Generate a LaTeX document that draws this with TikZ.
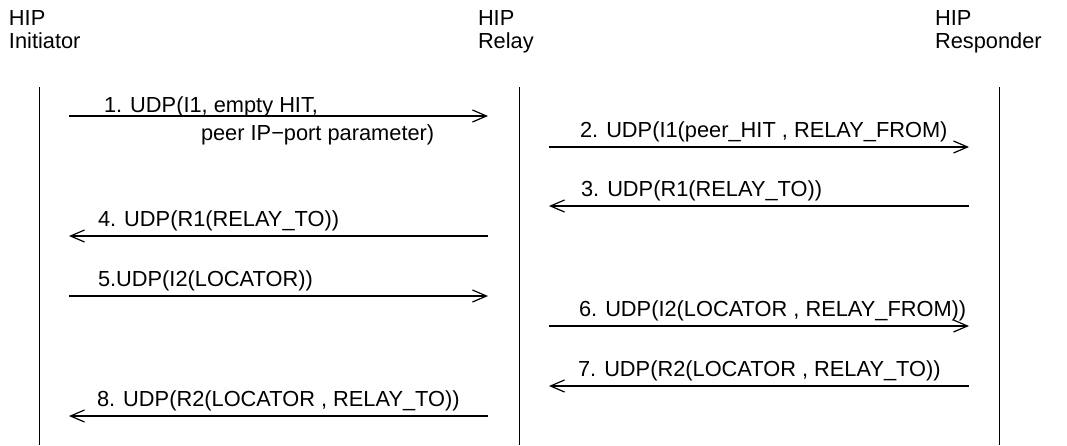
\documentclass[tikz,border=0pt]{standalone}
\usepackage{fontspec}
\setmainfont{Liberation Sans}
\usetikzlibrary{arrows.meta}
\begin{document}
\begin{tikzpicture}[x=1pt, y=-1pt,
  every node/.style={inner sep=0pt, outer sep=0pt, font=\fontsize{21.8}{23}\selectfont},
  party/.style={align=left, anchor=base west},
  msglabel/.style={anchor=base west},
  lifeline/.style={line width=1pt},
  msg/.style={line width=1.2pt, -{Straight Barb[length=14pt, width=12pt, line width=1.2pt]}}]
\useasboundingbox (0,0) rectangle (1067,445);

% participants (base anchor sits on the last line)
\node[party] (ini) at (9,48)   {HIP\\Initiator};
\node[party] (rel) at (478,48) {HIP\\Relay};
\node[party] (res) at (935,48) {HIP\\Responder};

% lifelines
\coordinate (iT) at (39,87);  \coordinate (iB) at (39,445);
\coordinate (rT) at (519,87); \coordinate (rB) at (519,445);
\coordinate (pT) at (999,87); \coordinate (pB) at (999,445);
\draw[lifeline] (iT) -- (iB);
\draw[lifeline] (rT) -- (rB);
\draw[lifeline] (pT) -- (pB);

% message end points
\foreach \n/\y in {1/116,2/147,3/206,4/236,5/296,6/326,7/386,8/416}{
  \coordinate (a\n) at (69,\y);
  \coordinate (b\n) at (488,\y);
  \coordinate (c\n) at (549,\y);
  \coordinate (d\n) at (969,\y);
}

% messages
\draw[msg] (a1) -- (b1);
\draw[msg] (c2) -- (d2);
\draw[msg] (d3) -- (c3);
\draw[msg] (b4) -- (a4);
\draw[msg] (a5) -- (b5);
\draw[msg] (c6) -- (d6);
\draw[msg] (d7) -- (c7);
\draw[msg] (b8) -- (a8);

% message labels
\node[msglabel] (t1)  at (104,112) {1. UDP(I1, empty HIT,};
\node[msglabel] (t1b) at (201,140) {peer IP\textminus port parameter)};
\node[msglabel] (t2)  at (580,137) {2. UDP(I1(peer\_HIT , RELAY\_FROM)};
\node[msglabel] (t3)  at (581,196) {3. UDP(R1(RELAY\_TO))};
\node[msglabel] (t4)  at (98,226)  {4. UDP(R1(RELAY\_TO))};
\node[msglabel] (t5)  at (98,286)  {5.UDP(I2(LOCATOR))};
\node[msglabel] (t6)  at (579,316) {6. UDP(I2(LOCATOR , RELAY\_FROM))};
\node[msglabel] (t7)  at (578,376) {7. UDP(R2(LOCATOR , RELAY\_TO))};
\node[msglabel] (t8)  at (97,406)  {8. UDP(R2(LOCATOR , RELAY\_TO))};
\end{tikzpicture}
\end{document}
